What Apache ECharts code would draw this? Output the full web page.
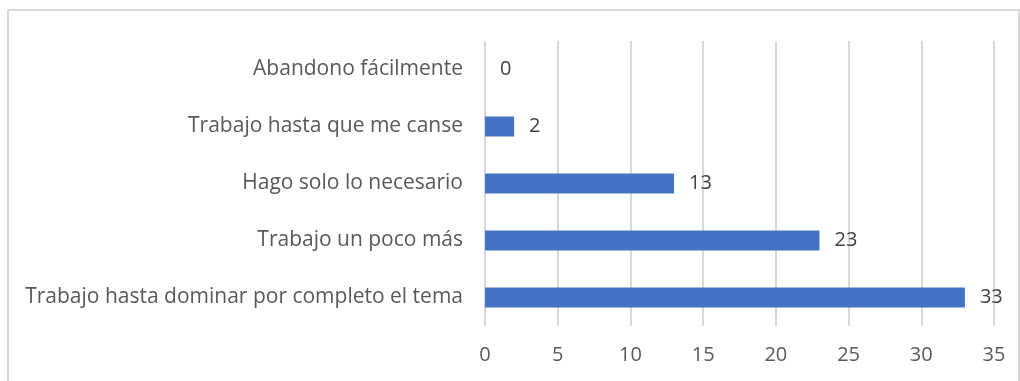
<!DOCTYPE html>
<html>
<head>
<meta charset="utf-8">
<script src="https://cdn.jsdelivr.net/npm/echarts@6/dist/echarts.min.js"></script>
<style>
  html, body { margin: 0; padding: 0; background: #fff; }
  #chart { width: 1020px; height: 381px; }
</style>
</head>
<body>
<div id="chart"></div>
<script>
// Response categories, listed bottom to top as the y axis draws them
const categories = [
  'Trabajo hasta dominar por completo el tema',
  'Trabajo un poco más',
  'Hago solo lo necesario',
  'Trabajo hasta que me canse',
  'Abandono fácilmente'
];
const counts = [33, 23, 13, 2, 0];
const xTicks = [0, 5, 10, 15, 20, 25, 30, 35];

const font = '"Open Sans", "Noto Sans", sans-serif';
const textColor = '#595959';

const chart = echarts.init(document.getElementById('chart'), null, { renderer: 'canvas' });
chart.setOption({
  animation: false,
  graphic: [{
    type: 'rect',
    shape: { x: 8, y: 10, width: 1011, height: 400 },
    style: { fill: 'none', stroke: '#d9d9d9', lineWidth: 2 },
    silent: true
  }],
  grid: { left: 485, right: 26, top: 41, bottom: 55, containLabel: false },
  xAxis: {
    type: 'value',
    min: xTicks[0],
    max: xTicks[xTicks.length - 1],
    interval: 5,
    axisLine: { show: false },
    axisTick: { show: false },
    splitLine: { lineStyle: { color: '#d9d9d9', width: 2 } },
    axisLabel: {
      color: textColor, fontFamily: font, fontSize: 20, margin: 19,
      formatter: v => xTicks.includes(v) ? String(v) : ''
    }
  },
  yAxis: {
    type: 'category',
    data: categories,
    axisLine: { show: false },
    axisTick: { show: false },
    axisLabel: { color: textColor, fontFamily: font, fontSize: 21, margin: 22 }
  },
  series: [{
    type: 'bar',
    data: counts,
    barWidth: 20,
    itemStyle: { color: '#4472c4' },
    label: {
      show: true,
      position: 'right',
      distance: 15,
      color: '#404040',
      fontFamily: font,
      fontSize: 20
    }
  }]
});
</script>
</body>
</html>
